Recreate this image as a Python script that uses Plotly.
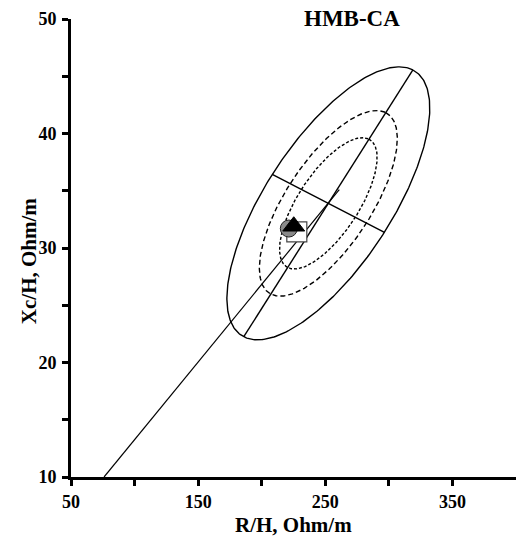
import numpy as np
import plotly.graph_objects as go

# ---- data ----
title_text = "HMB-CA"
x_title = "R/H, Ohm/m"
y_title = "Xc/H, Ohm/m"

x_ticks = [50, 150, 250, 350]
y_ticks = [10, 20, 30, 40, 50]

# ellipse centre and conjugate semi-axes (data units) for the 95% ellipse
ell_center = [252.4, 33.9]
ell_major = [66.5, 11.65]
ell_minor = [44.1, -2.53]
ell_scales = [1.0, 0.680, 0.481]      # 95%, 75%, 50%
ell_dash = ["solid", "5px,3px", "3px,2px"]

# long vector line
vec_x = [76, 261]
vec_y = [10, 35.1]

# group mean points
sq_x, sq_y = [227.6], [31.4]
ci_x, ci_y = [221.3], [31.7]
tr_x, tr_y = [225.2], [31.9]

FONT = "Liberation Serif"

fig = go.Figure()

t = np.linspace(0, 2 * np.pi, 361)
cx, cy = ell_center
for s, d in zip(ell_scales, ell_dash):
    ex = cx + s * (np.cos(t) * ell_major[0] + np.sin(t) * ell_minor[0])
    ey = cy + s * (np.cos(t) * ell_major[1] + np.sin(t) * ell_minor[1])
    fig.add_trace(go.Scatter(x=ex, y=ey, mode="lines",
                             line=dict(color="black", width=1.4, dash=d),
                             hoverinfo="skip", showlegend=False))

# major and minor axes of the outer ellipse
fig.add_trace(go.Scatter(x=[cx - ell_major[0], cx + ell_major[0]],
                         y=[cy - ell_major[1], cy + ell_major[1]],
                         mode="lines", line=dict(color="black", width=1.4),
                         showlegend=False))
fig.add_trace(go.Scatter(x=[cx - ell_minor[0], cx + ell_minor[0]],
                         y=[cy - ell_minor[1], cy + ell_minor[1]],
                         mode="lines", line=dict(color="black", width=1.4),
                         showlegend=False))

fig.add_trace(go.Scatter(x=vec_x, y=vec_y, mode="lines",
                         line=dict(color="black", width=1.2), showlegend=False))

fig.add_trace(go.Scatter(x=sq_x, y=sq_y, mode="markers",
                         marker=dict(symbol="square", size=20, color="white",
                                     line=dict(color="#444444", width=1.2)),
                         showlegend=False))
fig.add_trace(go.Scatter(x=ci_x, y=ci_y, mode="markers",
                         marker=dict(symbol="circle", size=17, color="#8a8a8a",
                                     line=dict(color="#222222", width=1)),
                         showlegend=False))
fig.add_trace(go.Scatter(x=tr_x, y=tr_y, mode="markers",
                         marker=dict(symbol="triangle-up", size=19, color="black",
                                     line=dict(color="black", width=1)),
                         showlegend=False))

axis_common = dict(showgrid=False, zeroline=False, showline=True,
                   linecolor="black", linewidth=3, ticks="outside",
                   ticklen=6, tickwidth=2.5, tickcolor="black",
                   tickfont=dict(family=FONT, size=18, color="black", weight="bold"))

fig.update_xaxes(range=[50, 400], tickmode="array", tickvals=x_ticks,
                 ticktext=[str(v) for v in x_ticks],
                 minor=dict(tickvals=[100, 200, 300], ticks="outside", ticklen=6,
                            tickwidth=2.5, tickcolor="black"),
                 **axis_common)
fig.update_yaxes(range=[10, 50], tickmode="array", tickvals=y_ticks,
                 ticktext=[str(v) for v in y_ticks],
                 minor=dict(tickvals=[15, 25, 35, 45], ticks="outside", ticklen=6,
                            tickwidth=2.5, tickcolor="black"),
                 ticklabelstandoff=2,
                 **axis_common)

fig.add_annotation(text=title_text, xref="paper", yref="paper", x=0.631, y=1.002,
                   xanchor="center", yanchor="middle", showarrow=False,
                   font=dict(family=FONT, size=23, color="black", weight="bold"))
fig.add_annotation(text=x_title, xref="paper", yref="paper", x=0.499, y=-0.105,
                   xanchor="center", yanchor="middle", showarrow=False,
                   font=dict(family=FONT, size=21, color="black", weight="bold"))
fig.add_annotation(text=y_title, xref="paper", yref="paper", x=-0.094, y=0.4716,
                   xanchor="center", yanchor="middle", showarrow=False, textangle=-90,
                   font=dict(family=FONT, size=21, color="black", weight="bold"))

fig.update_layout(width=520, height=540, margin=dict(l=71, r=4, t=19, b=63),
                  plot_bgcolor="white", paper_bgcolor="white", showlegend=False)

fig.write_html("out.html")
